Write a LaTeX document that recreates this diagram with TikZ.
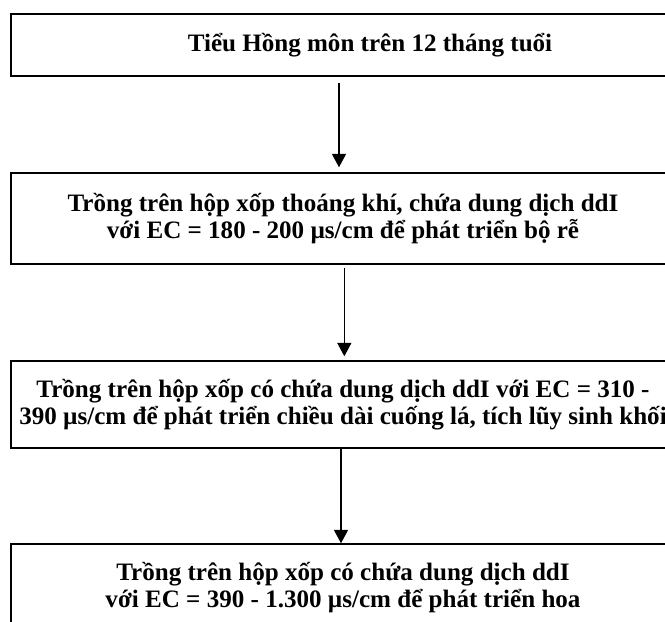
\documentclass[tikz,border=0pt]{standalone}
\usepackage{fontspec}
\setmainfont{Liberation Serif}
\usetikzlibrary{arrows.meta}

\tikzset{
  stepbox/.style={draw, line width=1.1pt, rectangle, inner sep=0pt, minimum width=498pt, align=center, font=\bfseries\fontsize{18.8}{20.25}\selectfont},
  flowarrow/.style={line width=0.9pt, -{Triangle[width=10.5pt,length=10pt]}}
}

\begin{document}
\begin{tikzpicture}[x=0.75pt, y=-0.75pt]
		%%%%% START %%%%%
		\useasboundingbox (0, 0) rectangle (665, 622);
		\clip (0, 0) rectangle (665, 622);
		
		\node[stepbox, minimum height=46.5pt] (young) at (343, 45) {\hspace*{40.5pt}Tiểu Hồng môn trên 12 tháng tuổi};
		\node[stepbox, minimum height=68.25pt] (roots) at (343, 218.5) {Trồng trên hộp xốp thoáng khí, chứa dung dịch ddI\\với EC = 180 - 200 µs/cm để phát triển bộ rễ};
		\node[stepbox, minimum height=65.25pt] (leaves) at (343, 404.5) {Trồng trên hộp xốp có chứa dung dịch ddI với EC = 310 -\\390 µs/cm để phát triển chiều dài cuống lá, tích lũy sinh khối};
		\node[stepbox, minimum height=65.25pt] (flower) at (343, 587.5) {Trồng trên hộp xốp có chứa dung dịch ddI\\với EC = 390 - 1.300 µs/cm để phát triển hoa};
		
		\draw[flowarrow, shorten <=4.5pt, shorten >=3.75pt] ([xshift=-3pt]young.south) -- ([xshift=-3pt]roots.north);
		\draw[flowarrow, shorten <=2.25pt, shorten >=3pt] ([xshift=1pt]roots.south) -- ([xshift=1pt]leaves.north);
		\draw[flowarrow] ([xshift=-1.5pt]leaves.south) -- ([xshift=-1.5pt]flower.north);
		
		%%%%% END %%%%%
\end{tikzpicture}
\end{document}
